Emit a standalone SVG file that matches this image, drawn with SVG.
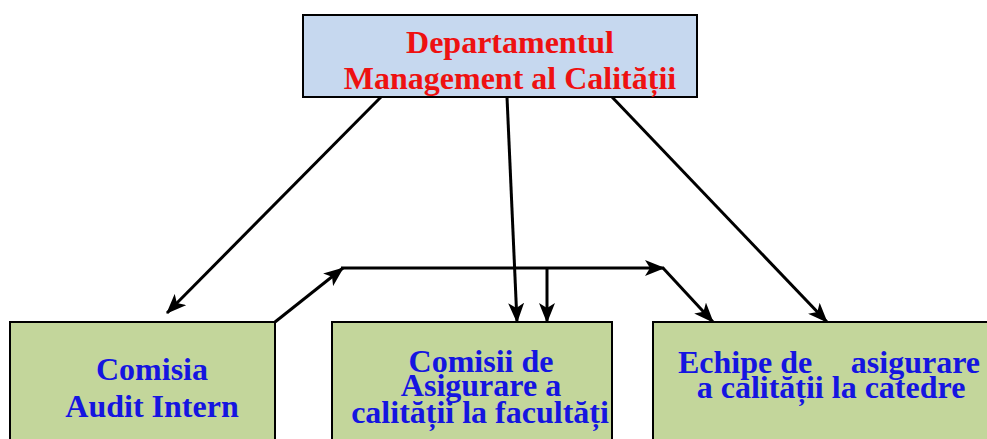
<svg xmlns="http://www.w3.org/2000/svg" width="987" height="439" viewBox="0 0 987 439">
<style>
.box{stroke:#000;stroke-width:2}
.top{fill:#c6d8ef}
.grn{fill:#c3d69b}
.t{font-family:"Liberation Serif","Times New Roman",serif;font-weight:bold;font-size:32px}
.red{fill:#ee1111}
.blue{fill:#1515e0}
.c{stroke:#000;stroke-width:3;fill:none}
</style>
<defs>
<marker id="ah" markerWidth="20" markerHeight="16" refX="19" refY="8" orient="auto" markerUnits="userSpaceOnUse">
<path d="M0,0 L20,8 L0,16 L5,8 Z" fill="#000"/>
</marker>
</defs>
<rect width="987" height="439" fill="#fff"/>
<g id="connectors">
<line class="c" x1="381" y1="97" x2="167" y2="313" marker-end="url(#ah)"/>
<line class="c" x1="507" y1="97" x2="517" y2="322" marker-end="url(#ah)"/>
<line class="c" x1="612" y1="97" x2="827" y2="322" marker-end="url(#ah)"/>
<line class="c" x1="275" y1="322" x2="343" y2="268" marker-end="url(#ah)"/>
<line class="c" x1="341" y1="268" x2="664" y2="268" marker-end="url(#ah)"/>
<line class="c" x1="663" y1="268" x2="713" y2="322" marker-end="url(#ah)"/>
<line class="c" x1="547" y1="268" x2="547" y2="322" marker-end="url(#ah)"/>
</g>
<g id="dmc">
<rect class="box top" x="303" y="15" width="394" height="82"/>
<text class="t red" text-anchor="middle"><tspan x="510" y="53">Departamentul</tspan><tspan x="510" y="89">Management al Calității</tspan></text>
</g>
<g id="cai">
<rect class="box grn" x="10" y="322" width="265" height="130"/>
<text class="t blue" text-anchor="middle"><tspan x="152" y="380">Comisia</tspan><tspan x="152" y="417">Audit Intern</tspan></text>
</g>
<g id="cac">
<rect class="box grn" x="332" y="322" width="280" height="130"/>
<text class="t blue" text-anchor="middle"><tspan x="481" y="372">Comisii de</tspan><tspan x="481" y="396">Asigurare a</tspan><tspan x="480" y="423">calității la facultăți</tspan></text>
</g>
<g id="eac">
<rect class="box grn" x="653" y="322" width="340" height="130"/>
<text class="t blue"><tspan x="678" y="373">Echipe de</tspan><tspan x="980" y="373" text-anchor="end">asigurare</tspan><tspan x="831" y="398" text-anchor="middle">a calității la catedre</tspan></text>
</g>
</svg>
